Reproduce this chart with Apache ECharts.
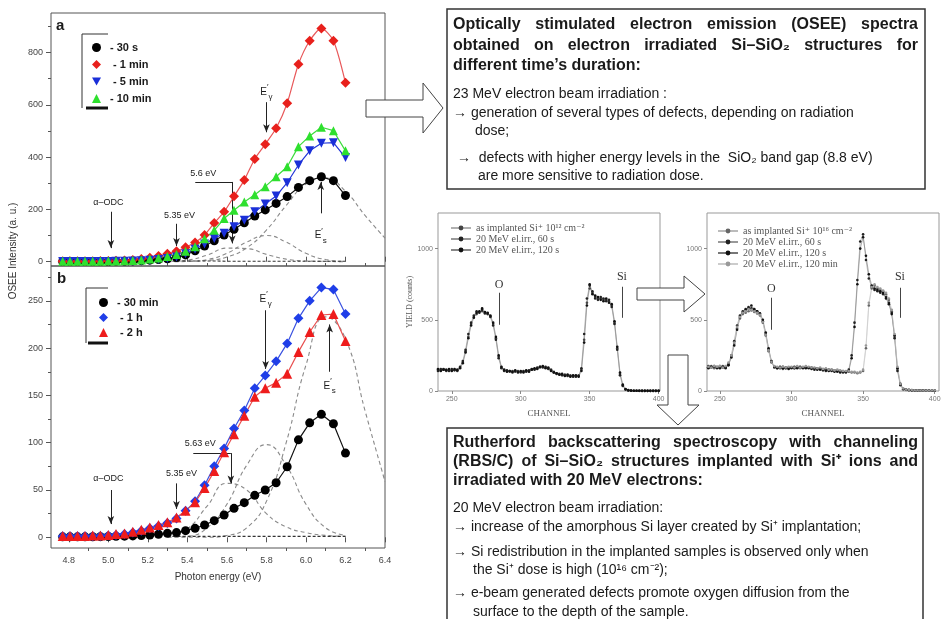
<!DOCTYPE html>
<html>
<head>
<meta charset="utf-8">
<script src="https://cdn.jsdelivr.net/npm/echarts@6/dist/echarts.min.js"></script>
<style>
  html, body { margin: 0; padding: 0; background: #fff; }
  #chart { width: 941px; height: 619px; }
</style>
</head>
<body>
<div id="chart"></div>
<script>
// colours
const INK = '#1a1a1a';
const AXIS = '#555';
const TICK_TEXT = '#444';
const DASH = '#8a8a8a';
const SANS = '"Liberation Sans", Arial, sans-serif';
const SERIF = '"Liberation Serif", "DejaVu Serif", serif';

// photon energies of the OSEE points (eV)
const energies = [4.769, 4.806, 4.844, 4.882, 4.921, 4.960, 5.000, 5.039, 5.082, 5.124,
  5.167, 5.210, 5.254, 5.299, 5.345, 5.391, 5.439, 5.487, 5.536, 5.586,
  5.636, 5.688, 5.741, 5.794, 5.849, 5.905, 5.962, 6.019, 6.078, 6.139, 6.200];

// panel a
const a30s = [1, 1, 1, 1, 1, 1, 1, 2, 2, 3, 4, 6, 8, 11, 16, 26, 42, 60, 80, 102,
  124, 149, 175, 198, 223, 249, 284, 310, 325, 310, 253];
const a1min = [2, 2, 2, 2, 2, 3, 3, 4, 5, 7, 10, 15, 22, 30, 40, 55, 73, 102, 148, 191,
  250, 312, 393, 449, 510, 606, 755, 845, 892, 845, 684];
const a5min = [1, 1, 1, 1, 1, 1, 1, 2, 2, 3, 4, 6, 8, 12, 18, 30, 48, 68, 89, 109,
  134, 159, 191, 221, 251, 302, 370, 424, 453, 455, 398];
const a10min = [2, 2, 2, 2, 2, 2, 3, 3, 4, 5, 7, 10, 14, 20, 28, 40, 57, 88, 120, 165,
  197, 228, 256, 287, 325, 363, 440, 481, 514, 501, 424];

// panel b
const b30min = [0.5, 0.5, 0.5, 0.5, 0.6, 0.7, 0.8, 1, 1.2, 1.5, 1.8, 2.5, 3.2, 4.2, 5, 7, 9.5, 13, 17.6, 23.6,
  30.6, 36.6, 44.4, 50, 57.7, 74.6, 103, 121, 130, 120, 89];
const b1h = [1, 1, 1, 1, 1.2, 1.5, 2, 2.5, 3.5, 5, 7, 9.5, 12, 15, 20, 28, 38, 55, 75, 94,
  115, 134, 157.5, 171, 186, 205, 231.5, 250, 264, 262, 236];
const b2h = [1.5, 1.5, 1.5, 1.5, 1.8, 2, 2.5, 3.5, 4, 6, 8, 10.5, 13, 16, 21, 28, 37, 52, 70, 90,
  109, 128.5, 148.6, 157.5, 163.5, 173, 196, 217, 235, 236, 207.5];

// fitted gaussian components (dashed), read at these energies
const compE = [5.3, 5.4, 5.5, 5.6, 5.7, 5.8, 5.9, 6.0, 6.1, 6.2, 6.3, 6.4];
const aCompS = [1, 2, 5, 18, 53, 121, 215, 297, 320, 269, 176, 90];
const aCompT = [0, 1, 8, 32, 75, 100, 75, 32, 8, 1];
const aComp56 = [1, 6, 25, 52, 50, 28, 10, 3, 1, 0];
const aCompLow = [2, 3, 3, 2, 2, 2, 2, 2, 2, 2];
const bCompS = [0, 0, 0, 2, 10, 38, 100, 182, 233, 210, 133, 59];
const bCompT = [0, 1, 10, 35, 76, 98, 76, 35, 10, 2];
const bComp563 = [1, 9, 33, 57, 50, 25, 11, 5, 2, 1];
const bCompLow = [1, 1, 1, 1, 1, 1, 1, 1, 1, 1];

// RBS channels
const channels = [240, 242, 244, 246, 248, 250, 252, 254, 256, 258,
  260, 262, 264, 266, 268, 270, 272, 274, 276, 278,
  280, 282, 284, 286, 288, 290, 292, 294, 296, 298,
  300, 302, 304, 306, 308, 310, 312, 314, 316, 318,
  320, 322, 324, 326, 328, 330, 332, 334, 336, 338,
  340, 342, 344, 346, 348, 350, 352, 354, 356, 358,
  360, 362, 364, 366, 368, 370, 372, 374, 376, 378,
  380, 382, 384, 386, 388, 390, 392, 394, 396, 398, 400];

// RBS, Si+ 10^12 cm^-2
const rbsLowImpl = [150, 145, 155, 140, 150, 145, 150, 140, 165, 200,
  280, 380, 470, 520, 540, 555, 560, 550, 545, 525,
  470, 370, 240, 165, 145, 140, 135, 140, 135, 140,
  130, 135, 140, 140, 150, 155, 160, 165, 170, 165,
  160, 150, 135, 125, 120, 115, 115, 110, 110, 105,
  105, 110, 150, 360, 620, 720, 690, 660, 650, 650,
  640, 640, 630, 600, 480, 300, 120, 40, 12, 5,
  3, 2, 2, 2, 1, 1, 1, 1, 1, 1, 1];
const rbsLow60s = [140, 155, 150, 150, 140, 155, 145, 150, 170, 210,
  290, 400, 480, 530, 560, 550, 570, 545, 540, 520,
  460, 360, 230, 160, 140, 145, 140, 130, 140, 135,
  135, 140, 135, 145, 155, 150, 165, 170, 165, 170,
  155, 145, 130, 120, 115, 110, 110, 105, 105, 100,
  100, 105, 160, 400, 650, 740, 700, 650, 640, 660,
  650, 630, 640, 590, 470, 290, 110, 35, 10, 4,
  2, 2, 2, 1, 1, 1, 1, 1, 1, 1, 1];
const rbsLow120s = [155, 140, 150, 145, 155, 140, 155, 145, 160, 195,
  270, 370, 460, 515, 550, 560, 580, 555, 550, 530,
  480, 380, 250, 170, 150, 135, 140, 135, 145, 130,
  140, 130, 145, 135, 150, 160, 155, 170, 175, 160,
  165, 140, 130, 125, 115, 120, 105, 115, 100, 110,
  110, 100, 140, 340, 600, 750, 680, 670, 660, 640,
  630, 650, 620, 610, 490, 310, 130, 45, 14, 6,
  3, 2, 2, 2, 1, 1, 1, 1, 1, 1, 1];

// RBS, Si+ 10^16 cm^-2
const rbsHighImpl = [170, 165, 175, 160, 170, 165, 175, 170, 190, 240,
  330, 440, 510, 540, 550, 560, 565, 555, 545, 530,
  480, 390, 280, 200, 170, 160, 165, 155, 160, 160,
  165, 160, 170, 160, 165, 170, 165, 160, 160, 155,
  160, 150, 155, 145, 150, 140, 145, 140, 140, 135,
  135, 130, 130, 125, 130, 140, 300, 600, 720, 740,
  720, 710, 700, 680, 640, 560, 380, 150, 45, 15,
  10, 8, 6, 5, 5, 4, 5, 4, 3, 3, 3];
const rbsHigh60s = [160, 175, 165, 170, 160, 175, 165, 160, 185, 250,
  350, 460, 530, 560, 575, 590, 580, 570, 560, 540,
  490, 400, 290, 205, 165, 165, 160, 170, 160, 165,
  160, 170, 165, 165, 160, 165, 160, 165, 150, 160,
  150, 155, 140, 150, 140, 145, 135, 140, 130, 135,
  150, 250, 480, 780, 1050, 1100, 920, 790, 730, 710,
  700, 690, 680, 660, 620, 550, 370, 140, 40, 12,
  8, 6, 5, 4, 5, 3, 4, 3, 3, 2, 2];
const rbsHigh120s = [165, 160, 170, 175, 165, 160, 170, 165, 180, 235,
  320, 430, 520, 550, 570, 580, 600, 575, 560, 545,
  500, 410, 300, 210, 170, 160, 170, 160, 165, 155,
  165, 160, 160, 170, 165, 160, 165, 155, 160, 150,
  155, 145, 150, 140, 145, 135, 140, 130, 135, 130,
  140, 230, 450, 750, 1000, 1080, 950, 820, 740, 720,
  710, 700, 690, 650, 610, 540, 390, 160, 50, 14,
  9, 7, 5, 5, 4, 4, 3, 3, 3, 2, 2];
const rbsHigh120min = [175, 170, 165, 175, 170, 175, 165, 175, 200, 250,
  340, 450, 520, 550, 560, 575, 570, 560, 550, 535,
  485, 395, 285, 205, 175, 170, 165, 170, 165, 170,
  170, 165, 175, 165, 170, 175, 170, 165, 165, 160,
  165, 155, 160, 150, 150, 145, 150, 145, 140, 140,
  140, 135, 135, 130, 135, 150, 320, 620, 730, 750,
  730, 720, 705, 690, 650, 570, 400, 170, 50, 18,
  10, 8, 7, 5, 5, 4, 4, 4, 3, 3, 3];

// text of the two boxes
const box1Bold = [
  'Optically stimulated electron emission (OSEE) spectra',
  'obtained on electron irradiated Si\u2013SiO\u2082 structures for',
  'different time\u2019s duration:'
];
const box1Body = [
  '23 MeV electron beam irradiation :',
  '\u2192 generation of several types of defects, depending on radiation',
  'dose;',
  '\u2192  defects with higher energy levels in the  SiO\u2082 band gap (8.8 eV)',
  'are more sensitive to radiation dose.'
];
const box2Bold = [
  'Rutherford backscattering spectroscopy with channeling',
  '(RBS/C) of Si\u2013SiO\u2082 structures implanted with Si\u207a ions and',
  'irradiated with 20 MeV electrons:'
];
const box2Body = [
  '20 MeV electron beam irradiation:',
  '\u2192 increase of the amorphous Si layer created by Si\u207a implantation;',
  '\u2192 Si redistribution in the implanted samples is observed only when',
  'the Si\u207a dose is high (10\u00b9\u2076 cm\u207b\u00b2);',
  '\u2192 e-beam generated defects promote oxygen diffusion from the',
  'surface to the depth of the sample.'
];

const pairs = (xs, ys) => ys.map((v, i) => [xs[i], v]);

const chart = echarts.init(document.getElementById('chart'));

// --- annotation helpers (data coordinates) ---
const arrow = (x1, y1, x2, y2) => [{ coord: [x1, y1], symbol: 'none' }, { coord: [x2, y2], symbol: 'arrow' }];
const seg = (x1, y1, x2, y2) => [{ coord: [x1, y1], symbol: 'none' }, { coord: [x2, y2], symbol: 'none' }];
const tag = (text, x, y, size, family) => ({
  coord: [x, y],
  label: { formatter: text, fontSize: size || 9, fontFamily: family || SANS }
});
const subRich = {
  e: { fontSize: 10, lineHeight: 18, verticalAlign: 'middle', color: INK, fontFamily: SANS },
  p: { fontSize: 8, lineHeight: 18, verticalAlign: 'top', color: INK, fontFamily: SANS },
  g: { fontSize: 8, lineHeight: 18, verticalAlign: 'bottom', color: INK, fontFamily: SANS }
};
const markLineBase = {
  silent: true,
  symbolSize: [5, 8],
  label: { show: false },
  lineStyle: { color: '#222', width: 1, type: 'solid' },
  emphasis: { disabled: true }
};
const markPointBase = {
  silent: true,
  symbol: 'circle',
  symbolSize: 0,
  label: { show: true, color: INK, position: 'inside' }
};

// --- axes ---
const majorX = [4.8, 5.0, 5.2, 5.4, 5.6, 5.8, 6.0, 6.2, 6.4];
const minorX = [4.9, 5.1, 5.3, 5.5, 5.7, 5.9, 6.1, 6.3];
const plainNum = v => String(v);

// the second axis of a grid is put on the opposite side by ECharts,
// so the minor-tick axes are pulled back over the main one with a negative offset
const xAxes = [
  { gridIndex: 0, type: 'value', position: 'bottom', min: 4.71, max: 6.4,
    axisLine: { show: false }, splitLine: { show: false }, axisLabel: { show: false },
    axisTick: { inside: true, length: 5, customValues: majorX, lineStyle: { color: AXIS } } },
  { gridIndex: 1, type: 'value', position: 'bottom', min: 4.71, max: 6.4,
    axisLine: { show: false }, splitLine: { show: false },
    axisTick: { length: 5, customValues: majorX, lineStyle: { color: AXIS } },
    axisLabel: { customValues: majorX, formatter: v => v.toFixed(1), fontSize: 9, color: TICK_TEXT, fontFamily: SANS, margin: 8 },
    name: 'Photon energy (eV)', nameLocation: 'middle', nameGap: 24,
    nameTextStyle: { fontSize: 10, color: '#333', fontFamily: SANS } },
  { gridIndex: 0, type: 'value', position: 'top', offset: -253, min: 4.71, max: 6.4,
    axisLine: { show: false }, splitLine: { show: false }, axisLabel: { show: false },
    axisTick: { inside: false, length: 3, customValues: minorX, lineStyle: { color: AXIS } } },
  { gridIndex: 1, type: 'value', position: 'top', offset: -282, min: 4.71, max: 6.4,
    axisLine: { show: false }, splitLine: { show: false }, axisLabel: { show: false },
    axisTick: { inside: true, length: 3, customValues: minorX, lineStyle: { color: AXIS } } },
  { gridIndex: 2, type: 'value', position: 'bottom', min: 240, max: 401,
    axisLine: { show: false }, splitLine: { show: false },
    axisTick: { length: 3, customValues: [250, 300, 350, 400], lineStyle: { color: '#888' } },
    axisLabel: { customValues: [250, 300, 350, 400], formatter: plainNum, fontSize: 7, color: '#777', margin: 5 },
    name: 'CHANNEL', nameLocation: 'middle', nameGap: 18,
    nameTextStyle: { fontSize: 9, color: '#555', fontFamily: SERIF } },
  { gridIndex: 3, type: 'value', position: 'bottom', min: 241, max: 403,
    axisLine: { show: false }, splitLine: { show: false },
    axisTick: { length: 3, customValues: [250, 300, 350, 400], lineStyle: { color: '#888' } },
    axisLabel: { customValues: [250, 300, 350, 400], formatter: plainNum, fontSize: 7, color: '#777', margin: 5 },
    name: 'CHANNEL', nameLocation: 'middle', nameGap: 18,
    nameTextStyle: { fontSize: 9, color: '#555', fontFamily: SERIF } }
];

const yAxes = [
  { gridIndex: 0, type: 'value', position: 'left', min: -16.4, max: 951,
    axisLine: { show: false }, splitLine: { show: false },
    axisTick: { length: 5, customValues: [0, 200, 400, 600, 800], lineStyle: { color: AXIS } },
    axisLabel: { customValues: [0, 200, 400, 600, 800], fontSize: 9, color: TICK_TEXT, fontFamily: SANS, margin: 8 } },
  { gridIndex: 1, type: 'value', position: 'left', min: -11.3, max: 286.8,
    axisLine: { show: false }, splitLine: { show: false },
    axisTick: { length: 5, customValues: [0, 50, 100, 150, 200, 250], lineStyle: { color: AXIS } },
    axisLabel: { customValues: [0, 50, 100, 150, 200, 250], fontSize: 9, color: TICK_TEXT, fontFamily: SANS, margin: 8 } },
  { gridIndex: 0, type: 'value', position: 'right', offset: -334, min: -16.4, max: 951,
    axisLine: { show: false }, splitLine: { show: false }, axisLabel: { show: false },
    axisTick: { inside: true, length: 3, customValues: [100, 300, 500, 700, 900], lineStyle: { color: AXIS } } },
  { gridIndex: 1, type: 'value', position: 'right', offset: -334, min: -11.3, max: 286.8,
    axisLine: { show: false }, splitLine: { show: false }, axisLabel: { show: false },
    axisTick: { inside: true, length: 3, customValues: [25, 75, 125, 175, 225, 275], lineStyle: { color: AXIS } } },
  { gridIndex: 2, type: 'value', position: 'left', min: 0, max: 1250,
    axisLine: { show: false }, splitLine: { show: false },
    axisTick: { length: 3, customValues: [0, 500, 1000], lineStyle: { color: '#888' } },
    axisLabel: { customValues: [0, 500, 1000], formatter: plainNum, fontSize: 7, color: '#777', margin: 5 },
    name: 'YIELD (counts)', nameLocation: 'middle', nameGap: 18,
    nameTextStyle: { fontSize: 8, color: '#555', fontFamily: SERIF } },
  { gridIndex: 3, type: 'value', position: 'left', min: 0, max: 1250,
    axisLine: { show: false }, splitLine: { show: false },
    axisTick: { length: 3, customValues: [0, 500, 1000], lineStyle: { color: '#888' } },
    axisLabel: { customValues: [0, 500, 1000], formatter: plainNum, fontSize: 7, color: '#777', margin: 5 } }
];

// --- series ---
const osee = (name, xi, data, symbol, color, lineColor, extra) => Object.assign({
  name, type: 'line', xAxisIndex: xi, yAxisIndex: xi,
  data: pairs(energies, data),
  symbol, symbolSize: 9, showSymbol: true,
  itemStyle: { color },
  lineStyle: { color: lineColor, width: 1.2 },
  z: 5
}, extra || {});

const comp = (xi, data, color, dash) => ({
  type: 'line', xAxisIndex: xi, yAxisIndex: xi,
  data: pairs(compE, data),
  smooth: 0.5, symbol: 'none', silent: true,
  lineStyle: { color: color || DASH, width: 1.1, type: dash || [4, 3] },
  z: 3
});

const rbs = (name, gi, data, dot, line) => ({
  name, type: 'line', xAxisIndex: gi, yAxisIndex: gi,
  data: pairs(channels, data),
  symbol: 'circle', symbolSize: 2.6,
  itemStyle: { color: dot },
  lineStyle: { color: line, width: 0.6 },
  z: 4
});

const series = [
  comp(0, aCompS), comp(0, aCompT), comp(0, aComp56), comp(0, aCompLow, '#333', [3, 2]),
  osee('- 30 s', 0, a30s, 'circle', '#000', '#111', {
    markLine: Object.assign({}, markLineBase, { data: [
      arrow(5.013, 191, 5.013, 52),
      arrow(5.345, 145, 5.345, 60),
      seg(5.44, 305, 5.627, 305),
      arrow(5.627, 305, 5.627, 70),
      arrow(5.80, 610, 5.80, 495),
      arrow(6.075, 185, 6.075, 305)
    ] }),
    markPoint: Object.assign({}, markPointBase, { data: [
      tag('\u03b1\u2013ODC', 5.0, 228),
      tag('5.35 eV', 5.36, 178),
      tag('5.6 eV', 5.48, 336),
      { coord: [5.80, 648], label: { formatter: '{e|E}{p|\u2032}{g|\u03b3}', rich: subRich } },
      { coord: [6.075, 100], label: { formatter: '{e|E}{p|\u2032}{g|s}', rich: subRich } }
    ] })
  }),
  osee(' - 1 min', 0, a1min, 'diamond', '#e8201c', '#e8585a', { symbolSize: 10, smooth: 0.25 }),
  osee(' - 5 min', 0, a5min, 'triangle', '#1a2fd8', '#2236d8', { symbolRotate: 180 }),
  osee('- 10 min', 0, a10min, 'triangle', '#2ee02e', '#3cdc3c'),

  comp(1, bCompS), comp(1, bCompT), comp(1, bComp563), comp(1, bCompLow, '#333', [3, 2]),
  osee('- 30 min', 1, b30min, 'circle', '#000', '#111', {
    markLine: Object.assign({}, markLineBase, { data: [
      arrow(5.013, 50, 5.013, 14),
      arrow(5.345, 57, 5.345, 30),
      seg(5.43, 89, 5.62, 89),
      arrow(5.62, 89, 5.62, 57),
      arrow(5.796, 240, 5.796, 178),
      arrow(6.12, 175, 6.12, 225)
    ] }),
    markPoint: Object.assign({}, markPointBase, { data: [
      tag('\u03b1\u2013ODC', 5.0, 62),
      tag('5.35 eV', 5.37, 67),
      tag('5.63 eV', 5.465, 99),
      { coord: [5.796, 252], label: { formatter: '{e|E}{p|\u2032}{g|\u03b3}', rich: subRich } },
      { coord: [6.12, 160], label: { formatter: '{e|E}{p|\u2032}{g|s}', rich: subRich } }
    ] })
  }),
  osee(' - 1 h', 1, b1h, 'diamond', '#1f3ee8', '#3a52e0', { symbolSize: 10 }),
  osee(' - 2 h', 1, b2h, 'triangle', '#ee1c1c', '#e85050', { symbolSize: 10 }),

  Object.assign(rbs('as implanted Si\u207a 10\u00b9\u00b2 cm\u207b\u00b2', 4, rbsLowImpl, '#444', '#b0b0b0'), {
    markLine: Object.assign({}, markLineBase, {
      lineStyle: { color: '#444', width: 1, type: 'solid' },
      data: [seg(284.3, 690, 284.3, 465), seg(373.4, 732, 373.4, 514)] }),
    markPoint: Object.assign({}, markPointBase, {
      label: { show: true, color: '#333', position: 'inside' },
      data: [tag('O', 284.3, 746, 12, SERIF), tag('Si', 373.4, 803, 12, SERIF)] })
  }),
  rbs('20 MeV el.irr., 60 s', 4, rbsLow60s, '#222', '#999'),
  rbs('20 MeV el.irr., 120 s', 4, rbsLow120s, '#111', '#888'),

  Object.assign(rbs('as implanted Si\u207a 10\u00b9\u2076 cm\u207b\u00b2', 5, rbsHighImpl, '#666', '#bbb'), {
    markLine: Object.assign({}, markLineBase, {
      lineStyle: { color: '#444', width: 1, type: 'solid' },
      data: [seg(285.9, 655, 285.9, 430), seg(375.7, 725, 375.7, 514)] }),
    markPoint: Object.assign({}, markPointBase, {
      label: { show: true, color: '#333', position: 'inside' },
      data: [tag('O', 285.9, 718, 12, SERIF), tag('Si', 375.7, 803, 12, SERIF)] })
  }),
  rbs('20 MeV el.irr., 60 s ', 5, rbsHigh60s, '#222', '#999'),
  rbs('20 MeV el.irr., 120 s ', 5, rbsHigh120s, '#111', '#777'),
  rbs('20 MeV el.irr., 120 min', 5, rbsHigh120min, '#999', '#ccc')
];

// --- legends ---
const downTri = 'path://M0,0L10,0L5,9Z';
const oseeLegend = (left, top, gap, data) => ({
  left, top, orient: 'vertical', padding: 0, itemGap: gap,
  itemWidth: 9, itemHeight: 9, selectedMode: false,
  lineStyle: { opacity: 0 },
  textStyle: { fontSize: 11, fontWeight: 'bold', color: INK, fontFamily: SANS, padding: [0, 0, 0, 4] },
  data
});
const rbsLegend = (left, top, gap, data) => ({
  left, top, orient: 'vertical', padding: 0, itemGap: gap,
  itemWidth: 20, itemHeight: 6, selectedMode: false,
  lineStyle: { type: 'dashed' },
  textStyle: { fontSize: 10, color: '#555', fontFamily: SERIF },
  data
});

const legends = [
  oseeLegend(92, 42, 6, [
    { name: '- 30 s', icon: 'circle' }, { name: ' - 1 min', icon: 'diamond' },
    { name: ' - 5 min', icon: downTri }, { name: '- 10 min', icon: 'triangle' }
  ]),
  oseeLegend(99, 297, 4, [
    { name: '- 30 min', icon: 'circle' }, { name: ' - 1 h', icon: 'diamond' }, { name: ' - 2 h', icon: 'triangle' }
  ]),
  rbsLegend(450, 223, 1, ['as implanted Si\u207a 10\u00b9\u00b2 cm\u207b\u00b2', '20 MeV el.irr., 60 s', '20 MeV el.irr., 120 s']),
  rbsLegend(717, 226, 1, ['as implanted Si\u207a 10\u00b9\u2076 cm\u207b\u00b2', '20 MeV el.irr., 60 s ', '20 MeV el.irr., 120 s ', '20 MeV el.irr., 120 min'])
];

// --- graphic: frames, boxes, block arrows, text ---
const measure = document.createElement('canvas').getContext('2d');
const BOLD = 'bold 16px "Liberation Sans"';
const BODY = '14px "Liberation Sans"';

function textEl(str, x, y, font) {
  return { type: 'text', x, y, z: 101,
    style: { text: str, font, fill: INK, align: 'left', verticalAlign: 'middle', textAlign: 'left', textVerticalAlign: 'middle' } };
}
function justified(str, x, y, font, width) {
  measure.font = font;
  const words = str.split(' ');
  const ws = words.map(w => measure.measureText(w).width);
  const gap = (width - ws.reduce((a, b) => a + b, 0)) / (words.length - 1);
  const out = [];
  let cx = x;
  words.forEach((w, i) => { out.push(textEl(w, cx, y, font)); cx += ws[i] + gap; });
  return out;
}

const graphics = [
  { type: 'text', x: 13, y: 251, rotation: Math.PI / 2, z: 101,
    style: { text: 'OSEE Intensity (a. u.)', font: '10px "Liberation Sans"', fill: '#333',
      align: 'center', verticalAlign: 'middle', textAlign: 'center', textVerticalAlign: 'middle' } },
  textEl('a', 56, 26, 'bold 15px "Liberation Sans"'),
  textEl('b', 57, 279, 'bold 15px "Liberation Sans"'),
  // Origin style legend frames
  { type: 'polyline', z: 101, shape: { points: [[108, 34], [82, 34], [82, 108]] }, style: { stroke: '#333', lineWidth: 1, fill: null } },
  { type: 'line', z: 101, shape: { x1: 86, y1: 108, x2: 108, y2: 108 }, style: { stroke: '#111', lineWidth: 3 } },
  { type: 'polyline', z: 101, shape: { points: [[108, 288], [86, 288], [86, 343]] }, style: { stroke: '#333', lineWidth: 1, fill: null } },
  { type: 'line', z: 101, shape: { x1: 88, y1: 343, x2: 108, y2: 343 }, style: { stroke: '#111', lineWidth: 3 } },
  // text boxes
  { type: 'rect', z: 100, shape: { x: 447, y: 9, width: 478, height: 180 }, style: { fill: '#fff', stroke: '#333', lineWidth: 1.5 } },
  { type: 'rect', z: 100, shape: { x: 447, y: 428, width: 476, height: 200 }, style: { fill: '#fff', stroke: '#333', lineWidth: 1.5 } },
  // block arrows
  { type: 'polygon', z: 102, shape: { points: [[366, 100], [423, 100], [423, 83], [443, 108], [423, 133], [423, 117], [366, 117]] },
    style: { fill: '#fff', stroke: '#444', lineWidth: 1 } },
  { type: 'polygon', z: 102, shape: { points: [[637, 288], [684, 288], [684, 276], [705, 294], [684, 312], [684, 300], [637, 300]] },
    style: { fill: '#fff', stroke: '#444', lineWidth: 1 } },
  { type: 'polygon', z: 102, shape: { points: [[668, 355], [688, 355], [688, 405], [699, 405], [678, 425], [657, 405], [668, 405]] },
    style: { fill: '#fff', stroke: '#444', lineWidth: 1 } }
];

// box 1
const innerW = 465;
graphics.push(...justified(box1Bold[0], 453, 25, BOLD, innerW));
graphics.push(...justified(box1Bold[1], 453, 46, BOLD, innerW));
graphics.push(textEl(box1Bold[2], 453, 66, BOLD));
graphics.push(textEl(box1Body[0], 453, 94, BODY));
graphics.push(textEl(box1Body[1], 453, 113, BODY));
graphics.push(textEl(box1Body[2], 475, 131, BODY));
graphics.push(textEl(box1Body[3], 457, 158, BODY));
graphics.push(textEl(box1Body[4], 478, 176, BODY));
// box 2
graphics.push(...justified(box2Bold[0], 453, 443, BOLD, innerW));
graphics.push(...justified(box2Bold[1], 453, 462, BOLD, innerW));
graphics.push(textEl(box2Bold[2], 453, 481, BOLD));
graphics.push(textEl(box2Body[0], 453, 508, BODY));
graphics.push(textEl(box2Body[1], 453, 527, BODY));
graphics.push(textEl(box2Body[2], 453, 552, BODY));
graphics.push(textEl(box2Body[3], 473, 570, BODY));
graphics.push(textEl(box2Body[4], 453, 593, BODY));
graphics.push(textEl(box2Body[5], 473, 612, BODY));

const gridStyle = { show: true, borderColor: AXIS, borderWidth: 1, backgroundColor: 'transparent', containLabel: false, outerBoundsMode: 'none' };

chart.setOption({
  backgroundColor: '#fff',
  animation: false,
  textStyle: { fontFamily: SANS },
  grid: [
    Object.assign({ left: 51, top: 13, width: 334, height: 253 }, gridStyle),
    Object.assign({ left: 51, top: 266, width: 334, height: 282 }, gridStyle),
    Object.assign({ left: 438, top: 213, width: 222, height: 178 }, gridStyle, { borderColor: '#999' }),
    Object.assign({ left: 707, top: 213, width: 232, height: 178 }, gridStyle, { borderColor: '#999' })
  ],
  xAxis: xAxes,
  yAxis: yAxes,
  legend: legends,
  tooltip: { show: false },
  series,
  graphic: { elements: graphics }
});
</script>
</body>
</html>
